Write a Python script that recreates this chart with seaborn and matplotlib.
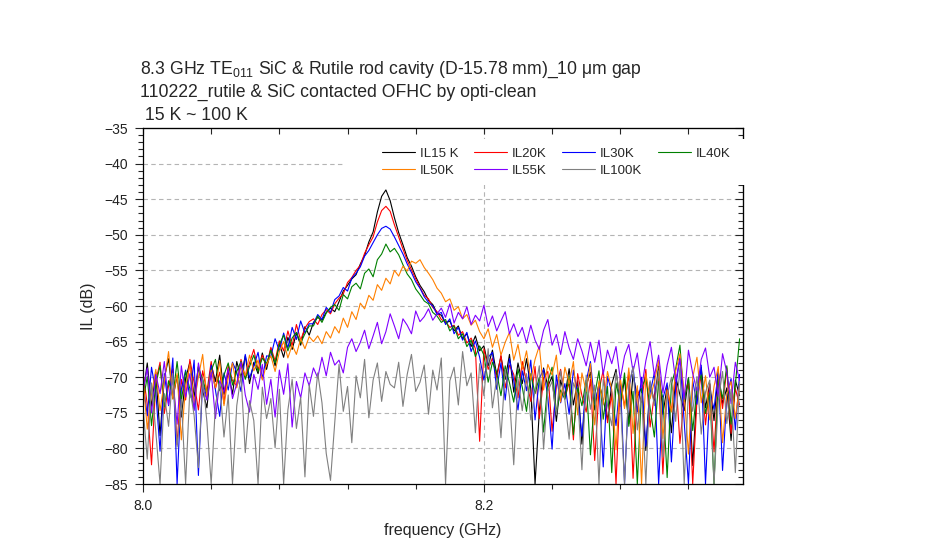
import numpy as np
import pandas as pd
import matplotlib
matplotlib.use("Agg")
import matplotlib.pyplot as plt
from matplotlib.ticker import MultipleLocator, FormatStrFormatter
from matplotlib.patches import Rectangle
import seaborn as sns

# frequency sweep (GHz): 141 points from 8.0 to 8.35
f_start, f_stop, n_pts = 8.0, 8.35, 141
freq = np.linspace(f_start, f_stop, n_pts)

il_15k = [
    -72.5, -68.0, -74.1, -69.3, -78.2, -70.1, -67.4, -73.0, -69.8, -75.6,
    -70.2, -67.9, -72.8, -68.5, -71.9, -74.3, -68.2, -70.6, -66.9, -72.4,
    -69.2, -72.4, -67.8, -70.1, -67.0, -70.9, -67.9, -69.5, -66.6, -68.9,
    -66.0, -68.4, -65.3, -67.2, -64.4, -66.1, -63.8, -65.5, -62.9, -64.1,
    -62.3, -61.6, -62.0, -60.9, -60.3, -60.8, -59.4, -57.9, -57.1, -56.2,
    -55.6, -54.1, -52.9, -51.0, -49.6, -46.8, -44.6, -43.7, -45.2, -47.6,
    -49.7, -51.4, -53.2, -54.4, -55.9, -57.1, -58.0, -59.2, -59.8, -61.0,
    -61.3, -62.4, -62.1, -63.5, -62.8, -64.6, -63.9, -65.7, -64.2, -66.3,
    -65.6, -68.4, -66.2, -69.7, -67.1, -70.3, -66.8, -72.1, -68.0, -70.9,
    -67.4, -71.6, -85.0, -74.8, -68.7, -71.3, -69.9, -76.2, -70.4, -72.7,
    -68.8, -73.9, -70.5, -79.4, -71.2, -69.3, -74.6, -70.8, -73.2, -76.0,
    -71.0, -68.9, -74.1, -70.2, -76.5, -69.6, -72.8, -71.4, -80.3, -70.7,
    -73.6, -68.4, -75.2, -71.3, -77.8, -69.9, -72.5, -74.7, -70.1, -82.4,
    -71.8, -68.6, -74.3, -70.9, -76.1, -69.2, -73.7, -71.5, -78.9, -70.4, -72.6]

il_20k = [
    -69.4, -73.8, -82.3, -70.6, -67.9, -75.1, -71.2, -68.8, -79.5, -70.3,
    -73.2, -67.5, -70.8, -74.6, -69.1, -72.0, -67.8, -71.6, -69.3, -73.7,
    -68.3, -70.5, -71.2, -67.5, -70.0, -68.0, -66.1, -69.0, -66.9, -68.4,
    -65.8, -67.7, -64.9, -66.3, -63.5, -65.6, -62.6, -64.8, -63.1, -62.2,
    -61.8, -62.6, -61.2, -60.5, -61.1, -59.7, -58.9, -58.3, -56.7, -56.0,
    -55.0, -54.3, -52.6, -51.4, -50.3, -48.2, -46.6, -46.0, -46.7, -48.6,
    -50.3, -52.0, -53.6, -54.9, -56.2, -57.4, -58.5, -59.0, -60.2, -60.8,
    -61.9, -62.2, -63.0, -62.7, -64.1, -63.6, -65.2, -64.5, -66.0, -79.0,
    -66.0, -68.9, -67.3, -70.2, -66.9, -71.5, -68.3, -69.6, -72.9, -67.8,
    -70.6, -73.4, -68.5, -75.8, -70.1, -69.2, -77.6, -71.3, -68.9, -73.0,
    -70.7, -78.8, -69.5, -72.6, -74.9, -70.3, -81.7, -71.9, -69.0, -76.4,
    -72.3, -85.0, -70.6, -74.1, -69.3, -84.2, -71.7, -73.5, -68.9, -77.0,
    -72.4, -70.0, -83.6, -71.2, -74.8, -69.6, -79.3, -72.9, -70.4, -85.0,
    -73.1, -69.8, -76.7, -71.0, -80.5, -70.2, -74.4, -68.7, -77.9, -71.6, -73.9]

il_30k = [
    -70.8, -75.4, -68.6, -72.1, -80.4, -69.5, -74.0, -67.3, -85.0, -71.7,
    -69.0, -72.9, -67.6, -83.8, -70.4, -73.1, -68.3, -71.8, -75.5, -69.4,
    -71.8, -67.9, -69.3, -72.0, -66.8, -70.1, -68.4, -66.5, -70.2, -67.0,
    -67.1, -64.6, -66.3, -63.8, -65.9, -63.0, -64.7, -62.1, -63.8, -62.5,
    -62.5, -61.2, -61.9, -60.2, -60.9, -59.1, -58.6, -57.4, -57.9, -56.1,
    -55.4, -54.5, -53.0, -52.2, -51.1, -50.0, -49.1, -48.8, -49.2, -50.3,
    -51.5, -52.7, -54.1, -55.3, -56.6, -57.5, -58.7, -59.5, -60.0, -61.2,
    -60.9, -62.6, -61.8, -63.9, -63.0, -64.8, -63.7, -66.4, -64.9, -67.2,
    -70.4, -67.2, -66.5, -71.7, -68.0, -73.2, -67.4, -70.5, -74.6, -69.1,
    -71.9, -67.6, -76.0, -70.2, -68.9, -72.8, -80.1, -69.7, -73.6, -70.9,
    -75.2, -69.0, -72.4, -78.3, -70.6, -67.8, -73.7, -71.1, -82.6, -69.9,
    -72.1, -76.8, -70.3, -85.0, -71.6, -68.5, -74.9, -70.0, -79.7, -72.2,
    -69.4, -85.0, -73.0, -70.8, -81.9, -71.4, -67.2, -76.3, -85.0, -70.5,
    -73.8, -68.3, -85.0, -71.9, -74.5, -69.0, -83.1, -72.7, -70.2, -77.4, -69.6]

il_40k = [
    -73.5, -69.9, -76.8, -71.0, -68.4, -74.2, -70.5, -72.8, -67.8, -73.3,
    -69.2, -71.7, -74.5, -68.6, -70.3, -72.4, -69.1, -67.5, -71.9, -69.7,
    -68.0, -71.1, -69.2, -67.8, -70.3, -68.5, -66.9, -69.2, -67.3, -68.1,
    -66.2, -68.0, -65.4, -64.1, -66.3, -64.5, -63.7, -65.2, -63.9, -62.8,
    -62.8, -61.4, -62.3, -61.0, -60.2, -59.8, -60.6, -58.4, -59.0, -57.3,
    -56.8, -57.6, -55.4, -54.8, -55.9, -53.5, -52.7, -51.3, -52.4, -51.9,
    -52.8, -54.2, -55.5, -56.3, -57.6, -58.4, -59.3, -59.7, -60.9, -61.4,
    -62.3, -61.9, -63.5, -62.8, -64.6, -63.9, -65.7, -64.8, -67.1, -65.6,
    -66.9, -70.7, -67.9, -69.3, -72.6, -68.4, -70.8, -73.5, -68.9, -71.4,
    -74.8, -69.5, -72.3, -70.0, -77.7, -70.7, -68.6, -75.0, -71.8, -73.1,
    -69.9, -78.1, -71.5, -74.0, -70.4, -80.9, -72.5, -69.1, -75.9, -71.3,
    -83.4, -70.8, -73.7, -69.4, -76.9, -72.0, -85.0, -71.5, -70.0, -74.3,
    -78.4, -70.6, -72.9, -84.1, -71.0, -68.8, -65.5, -73.4, -70.1, -77.5,
    -71.6, -69.7, -75.1, -72.2, -85.0, -70.3, -73.0, -68.4, -76.6, -71.1, -64.6]

il_50k = [
    -70.0, -77.3, -72.4, -68.9, -74.7, -70.6, -66.4, -73.1, -69.5, -78.8,
    -71.3, -68.2, -73.6, -70.0, -66.8, -72.9, -69.0, -71.5, -67.7, -74.0,
    -70.1, -68.0, -71.5, -68.4, -69.8, -66.9, -69.1, -67.6, -70.4, -68.2,
    -67.0, -69.2, -66.4, -65.0, -67.3, -65.5, -66.8, -64.6, -66.0, -64.3,
    -65.0, -64.2, -65.3, -63.6, -64.5, -62.9, -63.8, -61.7, -63.0, -60.8,
    -61.9, -59.6, -60.4, -58.5, -59.2, -57.0, -57.8, -56.1, -56.9, -55.0,
    -55.8, -54.4, -55.1, -53.7, -54.0, -53.5, -54.6, -55.4, -56.3, -57.5,
    -58.2, -59.4, -59.0, -60.6, -60.1, -61.8, -61.2, -62.7, -62.0, -63.6,
    -64.6, -63.2, -65.8, -64.0, -66.9, -65.1, -63.7, -67.6, -65.4, -68.9,
    -66.3, -70.4, -67.5, -65.6, -71.8, -68.2, -69.7, -66.9, -73.5, -68.6,
    -70.9, -67.8, -75.3, -69.4, -72.0, -68.1, -76.7, -70.5, -73.8, -69.2,
    -71.7, -80.2, -70.1, -74.4, -68.7, -77.9, -71.2, -85.0, -69.5, -73.0,
    -70.7, -67.6, -78.6, -71.8, -74.9, -69.1, -66.7, -72.3, -80.8, -70.0,
    -67.2, -73.6, -69.8, -76.0, -71.3, -68.5, -79.2, -72.4, -70.6, -75.8, -71.0]

il_55k = [
    -71.9, -68.7, -75.0, -69.6, -72.3, -67.8, -73.9, -70.2, -76.6, -68.4,
    -72.8, -69.5, -74.7, -68.0, -71.4, -73.2, -69.3, -75.8, -70.5, -72.1,
    -68.8, -73.0, -70.9, -67.9, -72.5, -74.9, -69.6, -71.7, -68.2, -73.8,
    -70.3, -75.6, -69.0, -72.4, -68.1, -77.0, -70.6, -72.9, -69.4, -71.2,
    -68.7, -70.1, -67.2, -69.8, -66.5, -68.3, -67.6, -69.4, -65.8, -64.6,
    -66.4, -65.1, -63.4, -66.0, -64.2, -62.3, -65.3, -63.6, -61.1, -62.8,
    -64.6, -61.8, -62.7, -63.9, -60.7, -62.2, -61.5, -60.4, -62.0, -61.1,
    -60.3, -61.6, -59.7, -62.4, -60.9, -61.8, -60.1, -62.6, -61.3, -62.1,
    -59.9, -62.9, -61.4, -63.5, -62.1, -60.8, -63.9, -62.5, -64.3, -63.0,
    -65.2, -62.7, -64.8, -66.1, -63.4, -61.9, -65.5, -64.0, -66.8, -63.6,
    -65.9, -67.5, -64.6, -66.3, -68.4, -65.1, -67.9, -64.8, -69.6, -66.2,
    -68.1, -65.7, -70.3, -67.0, -65.4, -69.2, -66.6, -71.5, -67.7, -65.0,
    -69.8, -66.9, -72.2, -68.3, -65.8, -70.6, -67.4, -73.1, -66.2, -69.5,
    -71.9, -67.5, -65.9, -70.0, -68.6, -72.8, -66.7, -69.3, -73.7, -67.9, -70.5]

il_100k = [
    -74.2, -81.5, -70.8, -77.6, -85.0, -72.3, -76.9, -69.5, -79.8, -73.1,
    -85.0, -71.6, -75.4, -82.7, -70.2, -76.3, -85.0, -73.8, -70.9, -78.4,
    -72.5, -85.0, -74.0, -69.7, -80.6, -73.3, -76.1, -85.0, -71.4, -75.8,
    -73.0, -79.9, -71.7, -85.0, -74.6, -70.3, -77.2, -72.8, -84.0, -71.0,
    -75.5, -69.4, -73.6, -80.7, -84.5, -76.4, -68.2, -74.8, -71.3, -79.2,
    -69.8, -72.9, -67.5, -75.7, -70.4, -68.0, -73.4, -69.2, -71.0, -71.5,
    -67.9, -74.1, -69.6, -66.8, -72.0, -70.7, -68.3, -75.2, -69.0, -71.8,
    -67.3, -85.0, -70.5, -68.6, -73.9, -66.4, -71.2, -69.4, -77.8, -68.1,
    -72.6, -66.0, -74.3, -70.1, -78.5, -68.9, -72.7, -82.3, -70.2, -74.7,
    -69.5, -76.0, -71.9, -68.4, -80.1, -72.0, -70.6, -75.3, -69.1, -73.2,
    -78.7, -70.8, -72.4, -83.0, -69.7, -74.5, -71.1, -85.0, -70.3, -73.9,
    -76.8, -69.3, -72.8, -85.0, -71.0, -68.6, -77.4, -72.3, -85.0, -70.5,
    -74.0, -69.1, -81.2, -72.6, -70.0, -76.2, -68.5, -85.0, -71.8, -74.8,
    -69.9, -78.0, -72.1, -70.4, -85.0, -73.3, -69.2, -76.5, -71.7, -83.4, -70.6]

labels = ["IL15 K", "IL20K", "IL30K", "IL40K", "IL50K", "IL55K", "IL100K"]
series = [il_15k, il_20k, il_30k, il_40k, il_50k, il_55k, il_100k]
colors = ["#000000", "#ff0000", "#0000ff", "#008000", "#ff8000", "#8000ff", "#808080"]

sns.set_style("ticks")
plt.rcParams["font.family"] = ["Liberation Sans", "DejaVu Sans"]
plt.rcParams["mathtext.default"] = "regular"

fig = plt.figure(figsize=(9.41, 5.58), dpi=100)
ax = fig.add_axes([143 / 941, 74 / 558, 600 / 941, 356 / 558])

for lab, vals, col in zip(labels, series, colors):
    sns.lineplot(x=freq, y=vals, color=col, lw=0.8, ax=ax, label=lab,
                 estimator=None, sort=False)

ax.set_xlim(8.0, 8.352)
ax.set_ylim(-85, -35)
ax.xaxis.set_major_locator(MultipleLocator(0.2))
ax.xaxis.set_minor_locator(MultipleLocator(0.04))
ax.xaxis.set_major_formatter(FormatStrFormatter("%.1f"))
ax.yaxis.set_major_locator(MultipleLocator(5))
ax.yaxis.set_minor_locator(MultipleLocator(1))

ax.tick_params(axis="both", which="major", direction="out", length=6, width=0.8,
               labelsize=10, colors="#222222")
ax.tick_params(axis="both", which="minor", direction="out", length=3.5, width=0.8)
ax.tick_params(axis="y", pad=5)
ax.tick_params(axis="x", pad=5)

# inward ticks on top and right, like the original instrument plot
top = ax.secondary_xaxis("top")
top.xaxis.set_major_locator(MultipleLocator(0.04))
top.tick_params(direction="in", length=4, width=0.8, labeltop=False)
right = ax.secondary_yaxis("right")
right.yaxis.set_major_locator(MultipleLocator(5))
right.yaxis.set_minor_locator(MultipleLocator(1))
right.tick_params(which="major", direction="in", length=6, width=0.8, labelright=False)
right.tick_params(which="minor", direction="in", length=3.5, width=0.8)

for sp in ax.spines.values():
    sp.set_linewidth(0.9)
    sp.set_color("black")
    sp.set_visible(True)

for y in range(-80, -35, 5):
    ax.axhline(y, color="#b4b4b4", lw=0.8, ls=(0, (4, 3)), zorder=0)
ax.axvline(8.2, color="#b4b4b4", lw=0.8, ls=(0, (4, 3)), zorder=0)

ax.set_xlabel("frequency (GHz)", fontsize=11.5, labelpad=7)
ax.set_ylabel("IL (dB)", fontsize=11.5, labelpad=6)

# white block behind the legend (hides grid and right spine there)
ax.add_patch(Rectangle((0.335, 0.84), 0.68, 0.128, transform=ax.transAxes,
                       facecolor="white", edgecolor="none", clip_on=False, zorder=4))

handles, labs = ax.get_legend_handles_labels()
order = [0, 4, 1, 5, 2, 6, 3]
leg = ax.legend([handles[i] for i in order], [labs[i] for i in order],
                ncol=4, loc="upper left", bbox_to_anchor=(0.39, 0.96),
                frameon=False, fontsize=9.5, handlelength=2.5, handletextpad=0.35,
                columnspacing=1.2, labelspacing=0.35, borderaxespad=0)
leg.set_zorder(5)

fig.text(140 / 941, 1 - 74 / 558,
         "8.3 GHz TE$_{011}$ SiC & Rutile rod cavity (D-15.78 mm)_10 \u03bcm gap",
         fontsize=12.7, va="baseline", ha="left")
fig.text(140 / 941, 1 - 97 / 558, "110222_rutile & SiC contacted OFHC by opti-clean",
         fontsize=12.7, va="baseline", ha="left")
fig.text(140 / 941, 1 - 120 / 558, " 15 K ~ 100 K",
         fontsize=12.7, va="baseline", ha="left")

fig.savefig("out.png", dpi=100)
